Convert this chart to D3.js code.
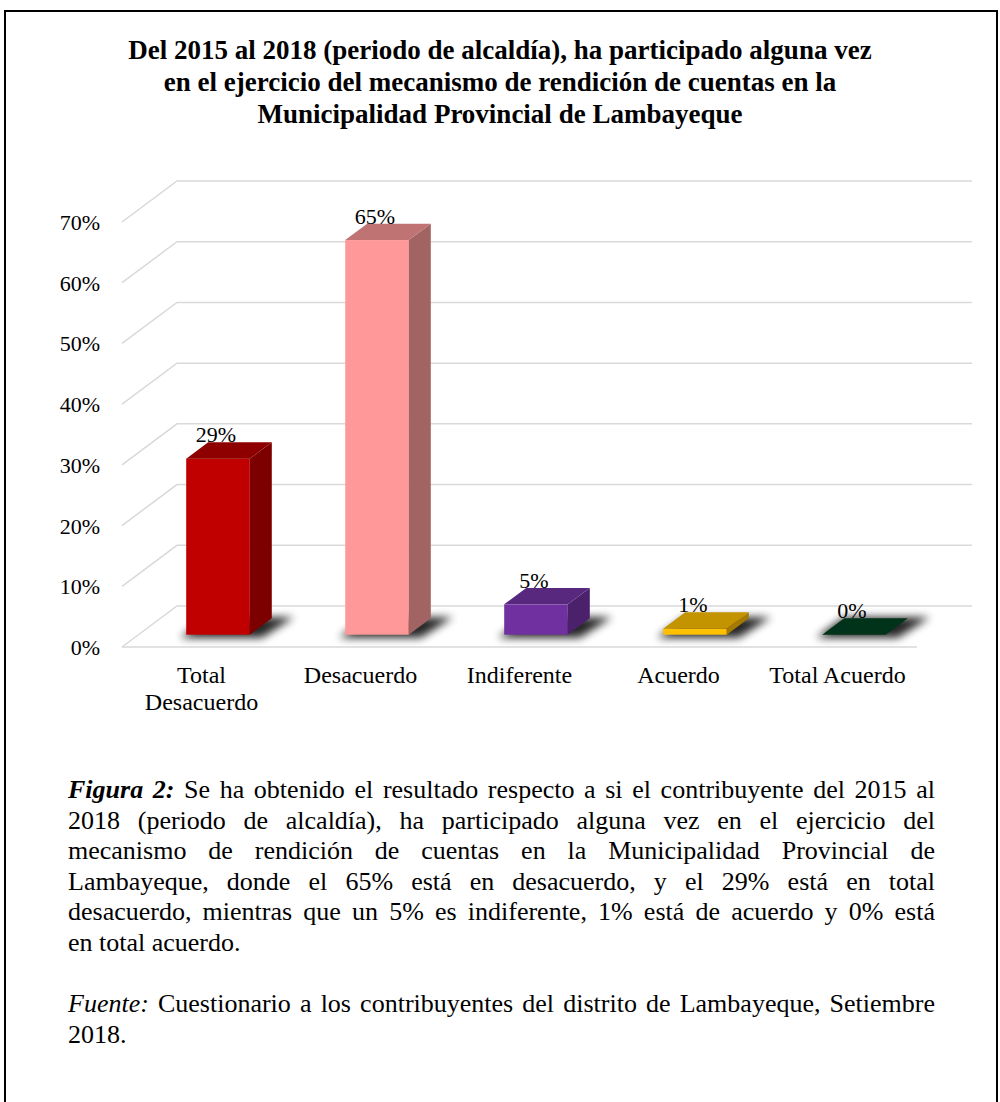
<!DOCTYPE html>
<html>
<head>
<meta charset="utf-8">
<script src="https://cdn.jsdelivr.net/npm/d3@7"></script>
<style>
  body { margin: 0; background: #fff; }
  #wrap { position: relative; width: 1000px; height: 1102px; overflow: hidden; }
  svg { position: absolute; left: 0; top: 0; }
  #caption { position: absolute; left: 68px; top: 0; width: 867px;
    font-family: "Liberation Serif", "Times New Roman", serif; font-size: 26px; color: #000; }
  #caption .ln { position: absolute; left: 0; width: 867px; white-space: nowrap; }
  #caption .j { text-align: justify; text-align-last: justify; white-space: normal; }
</style>
</head>
<body>
<div id="wrap">
  <svg id="chart" width="1000" height="1102"></svg>
  <div id="caption"></div>
</div>
<script>
// data
const categories = ["Total Desacuerdo", "Desacuerdo", "Indiferente", "Acuerdo", "Total Acuerdo"]
const categoryLines = [["Total", "Desacuerdo"], ["Desacuerdo"], ["Indiferente"], ["Acuerdo"], ["Total Acuerdo"]]
const values = [29, 65, 5, 1, 0]
const yTicks = [0, 10, 20, 30, 40, 50, 60, 70]
const titleLines = [
  "Del 2015 al 2018 (periodo de alcaldía), ha participado alguna vez",
  "en el ejercicio del mecanismo de rendición de cuentas en la",
  "Municipalidad Provincial de Lambayeque"
]
const captionLines = [
  "<b><i>Figura 2:</i></b> Se ha obtenido el resultado respecto a si el contribuyente del 2015 al",
  "2018 (periodo de alcaldía), ha participado alguna vez en el ejercicio del",
  "mecanismo de rendición de cuentas en la Municipalidad Provincial de",
  "Lambayeque, donde el 65% está en desacuerdo, y el 29% está en total",
  "desacuerdo, mientras que un 5% es indiferente, 1% está de acuerdo y 0% está",
  "en total acuerdo."
]
const sourceLines = [
  "<i>Fuente:</i> Cuestionario a los contribuyentes del distrito de Lambayeque, Setiembre",
  "2018."
]

// bar colours: front, top, side
const colors = [
  { front: "#c00000", top: "#8e0000", side: "#7d0000" },
  { front: "#ff9999", top: "#bf7373", side: "#a26363" },
  { front: "#7030a0", top: "#58287f", side: "#4b216c" },
  { front: "#ffc000", top: "#c49300", side: "#a47a00" },
  { front: "#00381c", top: "#00331a", side: "#002a15" }
]

const font = "'Liberation Serif', 'Times New Roman', serif"
const svg = d3.select("#chart")

// frame
svg.append("rect")
  .attr("x", 5).attr("y", 11)
  .attr("width", 992).attr("height", 1200)
  .attr("fill", "none").attr("stroke", "#000").attr("stroke-width", 2)

// title
svg.append("text")
  .attr("font-family", font).attr("font-weight", "bold").attr("font-size", 27)
  .attr("text-anchor", "middle")
  .selectAll("tspan").data(titleLines).join("tspan")
  .attr("x", 500).attr("y", (d, i) => 59 + i * 32)
  .text(d => d)

// scales
const x = d3.scaleBand().domain(categories).range([122, 917])
const y = d3.scaleLinear().domain([0, 70]).range([647, 222])

// 3d depth of the back wall and of the bars
const depthX = 55, depthY = -41
const barStart = 0.3, barDepth = 0.4
const barW = x.bandwidth() * 0.4

// shadow filter
const defs = svg.append("defs")
defs.append("filter").attr("id", "blur")
  .attr("x", "-50%").attr("y", "-100%").attr("width", "200%").attr("height", "300%")
  .append("feGaussianBlur").attr("stdDeviation", 4)

// gridlines
const grid = svg.append("g").attr("stroke", "#d9d9d9").attr("stroke-width", 1.5).attr("fill", "none")
yTicks.forEach(t => {
  const p = d3.path()
  p.moveTo(x.range()[0], y(t))
  p.lineTo(x.range()[0] + depthX, y(t) + depthY)
  p.lineTo(x.range()[1] + depthX, y(t) + depthY)
  grid.append("path").attr("d", p.toString())
})
grid.append("line")
  .attr("x1", x.range()[0]).attr("x2", x.range()[1])
  .attr("y1", y(0)).attr("y2", y(0))

// y axis labels
svg.append("g").selectAll("text").data(yTicks).join("text")
  .attr("x", 100).attr("y", d => y(d) + 8)
  .attr("text-anchor", "end")
  .attr("font-family", font).attr("font-size", 22)
  .text(d => d + "%")

// bars
const bdx = depthX * barDepth, bdy = depthY * barDepth
const bars = svg.append("g").selectAll("g").data(values).join("g")

bars.each(function (v, i) {
  const g = d3.select(this)
  const c = colors[i]
  const fx = x(categories[i]) + x.bandwidth() / 2 - barW / 2 + depthX * barStart
  const fy = y(0) + depthY * barStart
  const top = fy - (y(0) - y(v))

  // shadow on the floor
  g.append("polygon")
    .attr("points", [
      [fx - 6, fy + 3], [fx + barW + 12, fy + 3],
      [fx + barW + bdx + 22, fy + bdy - 1], [fx + bdx, fy + bdy - 1]
    ].join(" "))
    .attr("fill", "#000").attr("opacity", 0.85).attr("filter", "url(#blur)")

  // front face
  g.append("rect")
    .attr("x", fx).attr("y", top)
    .attr("width", barW).attr("height", fy - top)
    .attr("fill", c.front)

  // side face
  g.append("polygon")
    .attr("points", [
      [fx + barW, fy], [fx + barW, top],
      [fx + barW + bdx, top + bdy], [fx + barW + bdx, fy + bdy]
    ].join(" "))
    .attr("fill", c.side)

  // top face
  g.append("polygon")
    .attr("points", [
      [fx, top], [fx + barW, top],
      [fx + barW + bdx, top + bdy], [fx + bdx, top + bdy]
    ].join(" "))
    .attr("fill", c.top)

  // value label
  g.append("text")
    .attr("x", fx + barW / 2 - 2).attr("y", top + bdy)
    .attr("text-anchor", "middle")
    .attr("font-family", font).attr("font-size", 22)
    .text(v + "%")
})

// category labels
svg.append("g").selectAll("text").data(categories).join("text")
  .attr("text-anchor", "middle")
  .attr("font-family", font).attr("font-size", 24)
  .each(function (d, i) {
    d3.select(this).selectAll("tspan").data(categoryLines[i]).join("tspan")
      .attr("x", x(d) + x.bandwidth() / 2)
      .attr("y", (t, k) => 683 + k * 27)
      .text(t => t)
  })

// caption
const cap = d3.select("#caption")
captionLines.forEach((t, i) => {
  cap.append("div")
    .attr("class", i < captionLines.length - 1 ? "ln j" : "ln")
    .style("top", (797 - 22 + i * 30.5) + "px")
    .html(t)
})
sourceLines.forEach((t, i) => {
  cap.append("div")
    .attr("class", i < sourceLines.length - 1 ? "ln j" : "ln")
    .style("top", (1011 - 22 + i * 30.5) + "px")
    .html(t)
})
</script>
</body>
</html>
